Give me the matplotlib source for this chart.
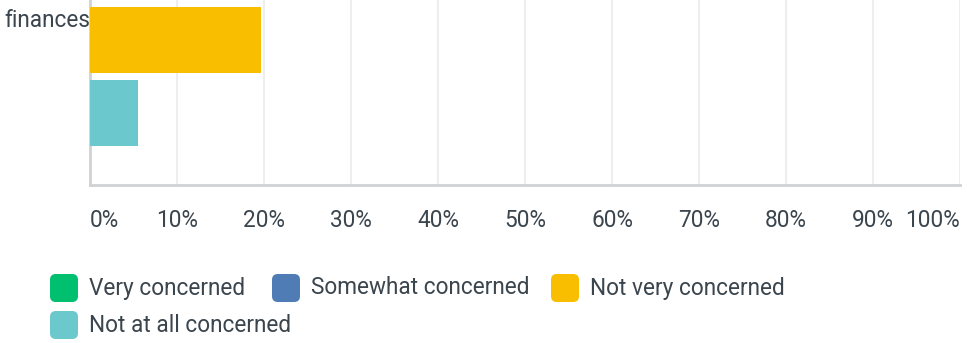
import numpy as np
import matplotlib
matplotlib.use("Agg")
import matplotlib.pyplot as plt
from matplotlib.patches import FancyBboxPatch

plt.rcParams['font.family'] = ['Roboto', 'DejaVu Sans']

# Survey responses for the "finances" question (percent of respondents)
category = "finances"
series = ["Very concerned", "Somewhat concerned", "Not very concerned", "Not at all concerned"]
colors = ["#00BF6F", "#507CB6", "#F9BE00", "#6BC8CD"]
values = [np.nan, np.nan, 19.6, 5.5]
xticks = [0, 10, 20, 30, 40, 50, 60, 70, 80, 90, 100]
xtick_labels = [f"{t}%" for t in xticks]

TEXT = "#3B454E"
FS = 16.3
W, H = 967, 343
fig = plt.figure(figsize=(W / 100, H / 100), dpi=100)
ax = fig.add_axes([90 / W, 1 - 185 / H, 870 / W, 185 / H])

pos = np.arange(len(series))
ax.barh(pos, values, height=0.904, color=colors, zorder=3)

ax.set_xlim(0, 100)
ax.set_ylim(2 + 145 / 73, 2 - 40 / 73)

ax.set_xticks(xticks)
ax.set_xticklabels(xtick_labels, fontsize=FS, color=TEXT)
for lbl in ax.get_xticklabels():
    lbl.set_horizontalalignment("center")
ax.get_xticklabels()[0].set_horizontalalignment("left")
ax.get_xticklabels()[-1].set_horizontalalignment("right")
ax.tick_params(axis="x", length=0, pad=17)
ax.set_yticks([])

ax.grid(axis="x", color="#EDEEEE", linewidth=1.5, zorder=0)
for s in ["top", "right"]:
    ax.spines[s].set_visible(False)
for s in ["left", "bottom"]:
    ax.spines[s].set_color("#D0D2D3")
    ax.spines[s].set_linewidth(2)

# group label (last line of the question text)
ax.text(0, 1 - 27 / 185, category, transform=ax.transAxes, ha="right", va="baseline",
        fontsize=FS, color=TEXT, zorder=5)

# legend drawn as rounded swatches with labels
legend_rows = [[0, 1, 2], [3]]
col_x = [50, 272, 551]
row_y = [288, 325]
sw = 28
for r, row in enumerate(legend_rows):
    for c, i in enumerate(row):
        x0 = col_x[c]
        yc = row_y[r]
        patch = FancyBboxPatch((x0 / W, 1 - (yc + sw / 2) / H), sw / W, sw / H,
                               boxstyle="round,pad=0,rounding_size=0.006",
                               transform=fig.transFigure, facecolor=colors[i],
                               edgecolor="none", mutation_aspect=W / H)
        fig.add_artist(patch)
        fig.text((x0 + 39) / W, 1 - yc / H, series[i], ha="left", va="center",
                 fontsize=FS, color=TEXT)

fig.savefig("out.png", dpi=100)
